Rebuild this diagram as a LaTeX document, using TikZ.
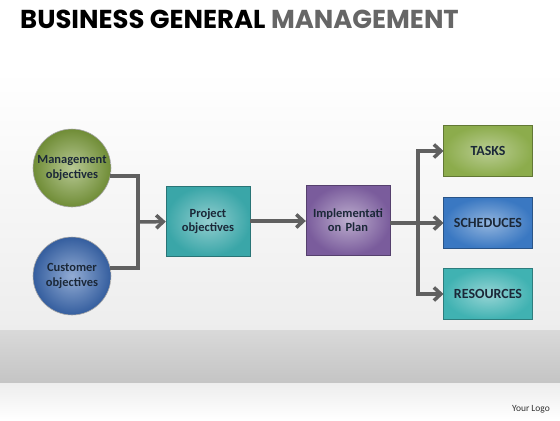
\documentclass[tikz,border=0pt]{standalone}
\usepackage{fontspec}
\setmainfont{Carlito}
\newfontfamily\titlefont{Poppins}
\usetikzlibrary{arrows.meta}

\definecolor{ink}{HTML}{1B2838}
\definecolor{wire}{HTML}{606060}
\definecolor{mgreen}{HTML}{7C9C3C}
\definecolor{mblue}{HTML}{3A68B0}
\definecolor{pteal}{HTML}{3AA6A8}
\definecolor{ipurple}{HTML}{7A5C9C}
\definecolor{tgreen}{HTML}{8CAC4C}
\definecolor{sblue}{HTML}{3A78C2}
\definecolor{rteal}{HTML}{40B2B2}

\tikzstyle{goal} = [circle, minimum size=76bp, inner sep=0pt, text width=74bp, align=center, font=\bfseries\fontsize{12.5}{14.5}\selectfont, text=ink, draw=black!35, line width=0.6bp]
\tikzstyle{stepbox} = [rectangle, minimum width=84bp, minimum height=70bp, text width=76bp, align=center, font=\bfseries\fontsize{12.5}{14.5}\selectfont, text=ink]
\tikzstyle{outbox} = [rectangle, minimum width=84bp, minimum height=51bp, text width=82bp, align=center, font=\bfseries\fontsize{14}{16}\selectfont, text=ink]
\tikzstyle{link} = [line width=3.5bp, wire]
\tikzstyle{flow} = [link, -{Straight Barb[length=7bp, width=13bp]}]

\begin{document}
\begin{tikzpicture}[x=1bp, y=-1bp]
      % backdrop
      \useasboundingbox (0,0) rectangle (560,420);
      \fill[white] (0,0) rectangle (560,420);
      \shade[top color=white, bottom color=gray!14] (0,70) rectangle (560,330);
      \shade[top color=gray!30, bottom color=gray!46] (0,330) rectangle (560,383);
      \shade[top color=gray!14, bottom color=white] (0,383) rectangle (560,420);

      % title
      \node (title) [anchor=base west, inner sep=0pt, font=\titlefont\bfseries\fontsize{26}{29}\selectfont] at (20,28) {BUSINESS GENERAL \textcolor{gray!80!black}{MANAGEMENT}};
      \node (logo) [anchor=base east, inner sep=0pt, font=\fontsize{9.5}{11}\selectfont, text=black!80] at (550,411) {Your Logo};

      % nodes
      \node (mgmt) [goal, inner color=mgreen!55!white, outer color=mgreen!90!black] at (72,168) {Management objectives};
      \node (cust) [goal, inner color=mblue!55!white, outer color=mblue!90!black] at (72,276) {Customer objectives};
      \node (proj) [stepbox, draw=pteal!70!black, inner color=pteal!55!white, outer color=pteal] at (208,221) {Project objectives};
      \node (impl) [stepbox, draw=ipurple!70!black, inner color=ipurple!50!white, outer color=ipurple] at (348,220) {Implementati on Plan};
      \node (tasks) [outbox, draw=tgreen!70!black, inner color=tgreen!60!white, outer color=tgreen] at (488,151) {TASKS};
      \node (sched) [outbox, draw=sblue!70!black, inner color=sblue!55!white, outer color=sblue] at (488,223) {SCHEDUCES};
      \node (res) [outbox, draw=rteal!70!black, inner color=rteal!55!white, outer color=rteal] at (488,294) {RESOURCES};

      \coordinate (jl) at (138,222);
      \coordinate (jr) at (418,223);

      % connectors
      \draw [link] (mgmt.-12) -| (jl) |- (cust.12);
      \draw [flow] (jl) -- (proj);
      \draw [flow] (proj) -- (impl.west |- proj);
      \draw [link] (impl.east |- jr) -- (jr);
      \draw [flow] (jr) |- (tasks);
      \draw [flow] (jr) -- (sched);
      \draw [flow] (jr) |- (res);
    \end{tikzpicture}
\end{document}
